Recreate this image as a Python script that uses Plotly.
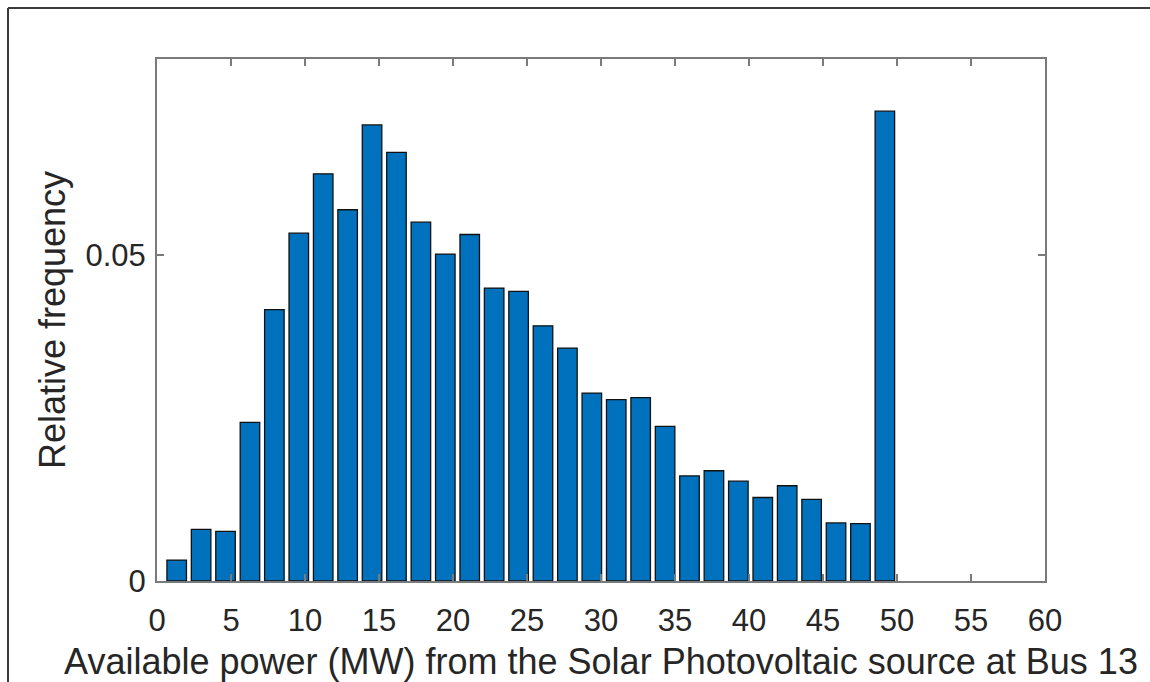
import plotly.graph_objects as go

# Bin centres (MW) and relative frequencies
bin_centers = [1.33, 2.98, 4.63, 6.28, 7.93, 9.58, 11.23, 12.88, 14.53, 16.18,
               17.83, 19.48, 21.13, 22.78, 24.43, 26.08, 27.73, 29.38, 31.03, 32.68,
               34.33, 35.98, 37.63, 39.28, 40.93, 42.58, 44.23, 45.88, 47.53, 49.18]
rel_freq = [0.0032, 0.0079, 0.0076, 0.0243, 0.0416, 0.0533, 0.0624, 0.0569, 0.0699, 0.0657,
            0.0550, 0.0501, 0.0531, 0.0449, 0.0444, 0.0391, 0.0357, 0.0288, 0.0278, 0.0281,
            0.0237, 0.0161, 0.0169, 0.0153, 0.0128, 0.0146, 0.0125, 0.0089, 0.0088, 0.0720]

x_ticks = [0, 5, 10, 15, 20, 25, 30, 35, 40, 45, 50, 55, 60]
y_ticks = [0, 0.05]
y_tick_labels = ["0", "0.05"]

x_title = "Available power (MW) from the Solar Photovoltaic source at Bus 13"
y_title = "Relative frequency"

FONT = "Liberation Sans, Arial, Helvetica, sans-serif"
TXT = "#262626"
AX = "#7a7a7a"

fig = go.Figure()
fig.add_trace(go.Bar(
    x=bin_centers, y=rel_freq,
    marker=dict(color="#0072BD", line=dict(color="#111111", width=1.3)),
    showlegend=False,
))

fig.update_layout(
    width=1150, height=682, autosize=False,
    margin=dict(l=157, r=105, t=59, b=101, pad=0),
    paper_bgcolor="white", plot_bgcolor="white",
    bargap=0.2,
    font=dict(family=FONT, color=TXT),
    xaxis=dict(
        range=[0, 60], tickmode="array", tickvals=x_ticks,
        ticks="inside", ticklen=7, tickwidth=1.5, tickcolor=AX,
        showline=True, linecolor=AX, linewidth=2, mirror="ticks",
        showgrid=False, zeroline=False, automargin=False,
        tickfont=dict(size=31, family=FONT, color=TXT),
        ticklabelstandoff=11,
        title=dict(text=x_title, font=dict(size=36, family=FONT, color=TXT), standoff=14),
    ),
    yaxis=dict(
        range=[0, 0.08], tickmode="array", tickvals=y_ticks, ticktext=y_tick_labels,
        ticks="inside", ticklen=7, tickwidth=1.5, tickcolor=AX,
        showline=True, linecolor=AX, linewidth=2, mirror="ticks",
        showgrid=False, zeroline=False, automargin=False,
        tickfont=dict(size=31, family=FONT, color=TXT),
        ticklabelstandoff=3,
        title=dict(text=y_title, font=dict(size=36, family=FONT, color=TXT), standoff=9),
    ),
    shapes=[
        dict(type="line", xref="paper", yref="paper", x0=-149/888, x1=993/888,
             y0=1 + 51/522, y1=1 + 51/522, line=dict(color="#3a3a3a", width=2)),
        dict(type="line", xref="paper", yref="paper", x0=-149/888, x1=-149/888,
             y0=1 + 51/522, y1=-101/522 - 0.01, line=dict(color="#3a3a3a", width=2)),
    ],
)

fig.write_html("out.html")
